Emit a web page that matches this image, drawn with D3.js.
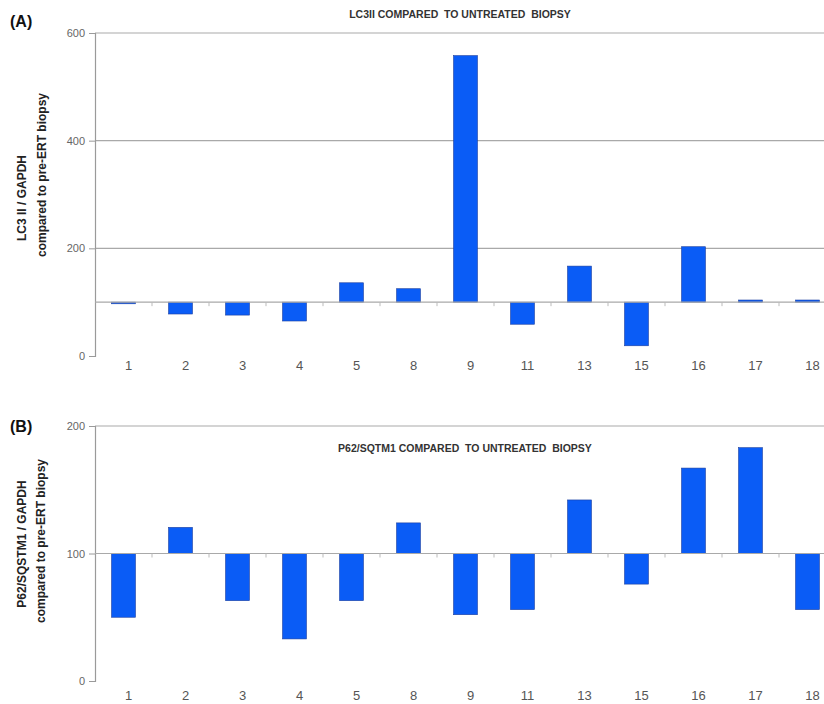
<!DOCTYPE html>
<html><head><meta charset="utf-8">
<script src="https://cdn.jsdelivr.net/npm/d3@7"></script>
<style>
html,body{margin:0;padding:0;background:#fff;}
svg{display:block;font-family:"Liberation Sans",Arial,sans-serif;}
</style></head>
<body>
<svg id="chart" width="824" height="704"></svg>
<script>
const categories = ["1","2","3","4","5","8","9","11","13","15","16","17","18"];
const lc3Values = [97,78,76,65,136,125,558,59,167,19,203,104,104];
const p62Values = [50,120.5,63,33,63,124,52,56,142,76,167,183,56];
const lc3Ticks = [0,200,400,600];
const p62Ticks = [0,100,200];

const svg = d3.select("#chart");
const barColor = "#0a5cf6";

function panel(opt){
  const g = svg.append("g");
  const x = d3.scaleBand().domain(categories).range([95, 836]).paddingInner(0.58).paddingOuter(0.29);
  const y = d3.scaleLinear().domain([0, opt.max]).range([opt.bottom, opt.top]);

  g.selectAll("line.grid").data(opt.ticks.filter(t => t > 0 && t !== opt.base))
    .join("line").attr("x1", 95).attr("x2", 824)
    .attr("y1", d => y(d)).attr("y2", d => y(d))
    .attr("stroke", "#a9a9a9").attr("stroke-width", 1.2);

  const ya = g.append("g").attr("transform", "translate(95,0)")
    .call(d3.axisLeft(y).tickValues(opt.ticks).tickSize(6).tickPadding(4));
  ya.select(".domain").attr("stroke", "#9a9a9a").attr("stroke-width", 1.2);
  ya.selectAll(".tick line").attr("stroke", "#9a9a9a");
  ya.selectAll(".tick text").attr("fill", "#666").style("font-size", "11px");

  g.selectAll("rect.bar").data(opt.values).join("rect")
    .attr("x", (d,i) => x(categories[i]))
    .attr("width", x.bandwidth())
    .attr("y", d => y(Math.max(d, opt.base)))
    .attr("height", d => Math.max(1.5, Math.abs(y(d) - y(opt.base))))
    .attr("fill", barColor).attr("stroke", "#1d3f9e").attr("stroke-width", 0.6);

  g.append("line").attr("x1", 95).attr("x2", 824)
    .attr("y1", y(opt.base)).attr("y2", y(opt.base))
    .attr("stroke", "#a9a9a9").attr("stroke-width", 1.2);
  const step = x.step();
  g.selectAll("line.ctick").data(categories.slice(1)).join("line")
    .attr("x1", d => x(d) - (step - x.bandwidth())/2).attr("x2", d => x(d) - (step - x.bandwidth())/2)
    .attr("y1", y(opt.base)).attr("y2", y(opt.base) + 4)
    .attr("stroke", "#bbb");

  g.selectAll("text.cat").data(categories).join("text")
    .attr("x", d => x(d) + x.bandwidth()/2 + 5)
    .attr("y", opt.labelY)
    .attr("text-anchor", "middle").attr("fill", "#555")
    .style("font-size", "13px").text(d => d);

  g.append("text").attr("x", opt.titleX).attr("y", opt.titleY)
    .attr("text-anchor", "middle").attr("fill", "#333")
    .style("white-space", "pre")
    .style("font-size", "10.5px").style("font-weight", "bold").text(opt.title);

  g.append("text").attr("x", 10).attr("y", opt.letterY)
    .attr("fill", "#111").style("font-size", "16px").style("font-weight", "bold").text(opt.letter);

  g.append("text").attr("transform", `translate(${opt.yl1[0]},${opt.yl1[1]}) rotate(-90)`)
    .attr("text-anchor", "middle").attr("dy", "0.35em").attr("fill", "#222")
    .style("font-size", "12px").style("font-weight", "bold").text(opt.ylabel1);
  g.append("text").attr("transform", `translate(${opt.yl2[0]},${opt.yl2[1]}) rotate(-90)`)
    .attr("text-anchor", "middle").attr("dy", "0.35em").attr("fill", "#222")
    .style("font-size", "12px").style("font-weight", "bold").text(opt.ylabel2);
}

panel({values: lc3Values, ticks: lc3Ticks, max: 600, base: 100, top: 33, bottom: 356,
  labelY: 370, title: "LC3II COMPARED  TO UNTREATED  BIOPSY", titleX: 460, titleY: 18,
  letter: "(A)", letterY: 27, ylabel1: "LC3 II / GAPDH", ylabel2: "compared to pre-ERT biopsy",
  yl1: [22, 198], yl2: [42, 175]});

panel({values: p62Values, ticks: p62Ticks, max: 200, base: 100, top: 426, bottom: 681,
  labelY: 700, title: "P62/SQTM1 COMPARED  TO UNTREATED  BIOPSY", titleX: 465, titleY: 452,
  letter: "(B)", letterY: 432, ylabel1: "P62/SQSTM1 / GAPDH", ylabel2: "compared to pre-ERT biopsy",
  yl1: [22, 544], yl2: [41, 541]});
</script>
</body></html>
